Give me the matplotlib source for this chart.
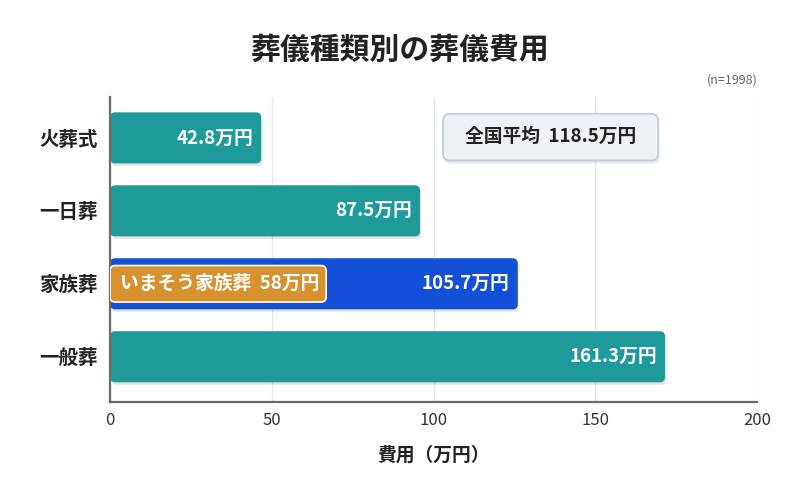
import matplotlib
matplotlib.use("Agg")
import matplotlib.pyplot as plt
from matplotlib.patches import FancyBboxPatch

plt.rcParams["font.family"] = ["Noto Sans CJK JP", "DejaVu Sans"]

# ---------------------------------------------------------
# Data
# ---------------------------------------------------------
categories = ["火葬式", "一日葬", "家族葬", "一般葬"]
cost_labels = [42.8, 87.5, 105.7, 161.3]        # printed values (万円)
bar_lengths = [46.7, 95.8, 126.0, 171.5]        # drawn bar lengths on the axis
imasou_label = 58
imasou_length = 66.8
national_avg = 118.5
sample_n = 1998
xticks = [0, 50, 100, 150, 200]

TEAL = "#1f9a9b"
BLUE = "#1450d6"
ORANGE = "#d8912f"
DARK = "#222222"
GRID = "#e6e6e6"

fig = plt.figure(figsize=(8, 4.99), dpi=100, facecolor="white")
ax = fig.add_axes([0.1375, 0.1944, 0.809, 0.6112])

ypos = list(range(len(categories)))
colors = [TEAL, TEAL, BLUE, TEAL]
bars = ax.barh(ypos, bar_lengths, height=0.70, color="none")

# aspect so rounded corners look round in pixels
px_x = 647 / 200
px_y = 73.0
aspect = px_x / px_y

def rounded(x0, y0, w, h, fc, ec="none", lw=0, z=2, r=1.6):
    p = FancyBboxPatch((x0, y0), w, h,
                       boxstyle=f"round,pad=0,rounding_size={r}",
                       mutation_aspect=aspect, facecolor=fc, edgecolor=ec,
                       linewidth=lw, zorder=z)
    ax.add_patch(p)
    return p

for b, c in zip(bars, colors):
    x0, y0, w, h = b.get_x(), b.get_y(), b.get_width(), b.get_height()
    # soft shadow
    rounded(x0 + 0.4, y0 + 0.035, w, h, "#000000", z=1.5).set_alpha(0.10)
    rounded(x0, y0, w, h, c, z=2)

for i, (v, L) in enumerate(zip(cost_labels, bar_lengths)):
    ax.text(L - 2.5, i, f"{v}万円", ha="right", va="center", color="white",
            fontsize=13.5, fontweight="bold", zorder=4)

# いまそう家族葬 box inside 家族葬 bar
fam = categories.index("家族葬")
rounded(0, fam - 0.25, imasou_length, 0.50, ORANGE, ec="white", lw=1.2, z=3)
ax.text(3, fam, f"いまそう家族葬  {imasou_label}万円", ha="left", va="center",
        color="white", fontsize=13.5, fontweight="bold", zorder=4)

# national average badge
rounded(102.9 + 0.4, -0.33 + 0.04, 66.5, 0.64, "#000000", z=2.5).set_alpha(0.08)
rounded(102.9, -0.33, 66.5, 0.64, "#eef1f6", ec="#c3cddb", lw=1.3, z=3, r=2.2)
ax.text(136.2, -0.02, f"全国平均  {national_avg}万円", ha="center", va="center",
        color=DARK, fontsize=13.5, fontweight="bold", zorder=4)

ax.set_xlim(0, 200)
ax.set_ylim(len(categories) - 0.38, -0.56)
ax.set_xticks(xticks)
ax.set_xticklabels([str(t) for t in xticks], fontsize=12, color="#333333")
ax.set_yticks(ypos)
ax.set_yticklabels(categories, fontsize=14, fontweight="bold", color=DARK)
ax.tick_params(axis="both", length=0, pad=7)
ax.tick_params(axis="y", pad=9)
ax.grid(axis="x", color=GRID, linewidth=1)
ax.set_axisbelow(True)
for s in ["top", "right"]:
    ax.spines[s].set_visible(False)
for s in ["left", "bottom"]:
    ax.spines[s].set_color("#6b6b6b")
    ax.spines[s].set_linewidth(1.6)

ax.set_xlabel("費用（万円）", fontsize=13.5, fontweight="bold", color=DARK, labelpad=12)

fig.text(0.5, 0.90, "葬儀種類別の葬儀費用", ha="center", va="center",
         fontsize=21.5, fontweight="bold", color=DARK)
fig.text(0.947, 0.84, f"(n={sample_n})", ha="right", va="center",
         fontsize=9, color="#666666")

fig.savefig("out.png", dpi=100, facecolor="white")
